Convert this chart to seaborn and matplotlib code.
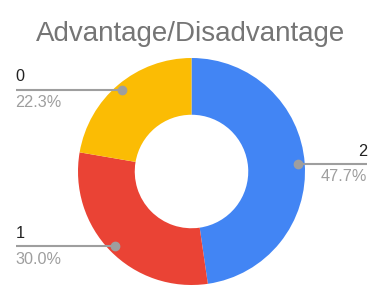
import numpy as np
import matplotlib
matplotlib.use("Agg")
import matplotlib.pyplot as plt
import seaborn as sns

# data
labels = ["2", "1", "0"]
shares = [47.7, 30.0, 22.3]
colors = ["#4285F4", "#EA4335", "#FBBC04"]

title = "Advantage/Disadvantage"

sns.set_style("white")
plt.rcParams["font.family"] = ["Liberation Sans", "DejaVu Sans"]

W, H = 382, 301
fig = plt.figure(figsize=(W / 100, H / 100), dpi=100)

# donut centre / radius in pixels
cx, cy, R = 191.5, 171.5, 113.5
ax = fig.add_axes([(cx - R) / W, (H - cy - R) / H, 2 * R / W, 2 * R / H])

wedges, _ = ax.pie(shares, colors=colors, startangle=90, counterclock=False,
                   radius=1.0, wedgeprops=dict(width=0.5, linewidth=0))
ax.set_xlim(-1, 1)
ax.set_ylim(-1, 1)
ax.set_aspect("equal")
ax.axis("off")

line_c = "#9e9e9e"
edge_x = 1.55
for w, lab, val in zip(wedges, labels, shares):
    ang = np.deg2rad((w.theta1 + w.theta2) / 2)
    px, py = 0.945 * np.cos(ang), 0.945 * np.sin(ang)
    side = 1 if px > 0 else -1
    ex = side * edge_x
    ax.plot([px, ex], [py, py], color=line_c, lw=1.5, clip_on=False,
            solid_capstyle="butt")
    ax.plot([px], [py], "o", color=line_c, ms=6, clip_on=False)
    ha = "right" if side > 0 else "left"
    ax.text(ex, py + 0.045, lab, ha=ha, va="bottom", fontsize=11.7,
            color="#222222", clip_on=False)
    ax.text(ex, py - 0.05, "{:.1f}%".format(val), ha=ha, va="top",
            fontsize=11.7, color="#9e9e9e", clip_on=False)

fig.text(0.5, 1 - 34 / H, title, ha="center", va="center", fontsize=20,
         color="#757575")

fig.savefig("out.png", dpi=100, facecolor="white")
